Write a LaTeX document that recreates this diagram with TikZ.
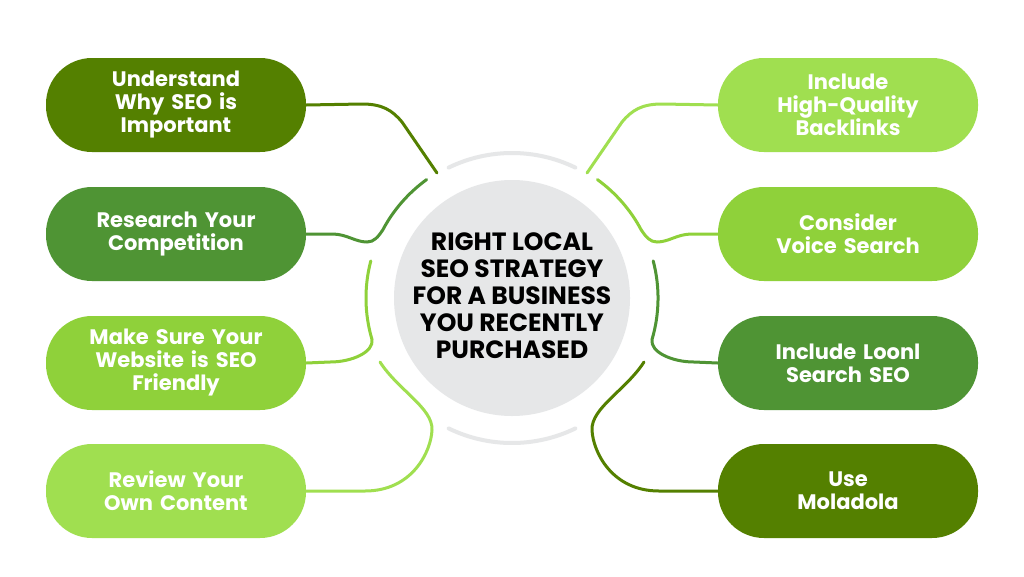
\documentclass[tikz,border=0pt]{standalone}
\usepackage{fontspec}
\setmainfont{Poppins}
\definecolor{gdark}{HTML}{548000}
\definecolor{gmid}{HTML}{4F9434}
\definecolor{glight}{HTML}{8FD13A}
\definecolor{glighter}{HTML}{A0DF50}
\definecolor{ringgray}{HTML}{E6E7E8}
\begin{document}
\begin{tikzpicture}[x=1pt,y=-1pt,
  pill/.style={rectangle, rounded corners=46pt, minimum width=260pt, minimum height=94pt,
    inner sep=0pt, text=white, font=\bfseries\fontsize{21}{23}\selectfont,
    align=center, text width=250pt},
  link/.style={line width=3pt, line cap=round},
  ringarc/.style={line width=4pt, ringgray, line cap=round}]
\useasboundingbox[fill=white] (0,0) rectangle (1024,576);

% centre
\node[circle, fill=ringgray, minimum size=236pt, inner sep=0pt] (hub) at (512,298) {};
\node[font=\bfseries\fontsize{25}{27}\selectfont, align=center, text=black] (hubtext) at (512,296)
  {RIGHT LOCAL\\SEO STRATEGY\\FOR A BUSINESS\\YOU RECENTLY\\PURCHASED};
\draw[ringarc] (hub.center) ++(244.1:145) arc[start angle=244.1, end angle=295.9, radius=145];
\draw[ringarc] (hub.center) ++(64.1:145) arc[start angle=64.1, end angle=115.9, radius=145];

% pills
\node[pill, fill=gdark] (p1) at (176,105) {Understand\\Why SEO is\\Important};
\node[pill, fill=gmid] (p2) at (176,234) {Research Your\\Competition};
\node[pill, fill=glight] (p3) at (176,363) {Make Sure Your\\Website is SEO\\Friendly};
\node[pill, fill=glighter] (p4) at (176,491) {Review Your\\Own Content};
\node[pill, fill=glighter] (q1) at (848,105) {Include\\High-Quality\\Backlinks};
\node[pill, fill=glight] (q2) at (848,234) {Consider\\Voice Search};
\node[pill, fill=gmid] (q3) at (848,363) {Include Loonl\\Search SEO};
\node[pill, fill=gdark] (q4) at (848,491) {Use\\Moladola};

% ring end points
\coordinate (e1) at (437,173);
\coordinate (e2) at (426.6,179.6);
\coordinate (e3) at (370.8,260.9);
\coordinate (e4) at (380,362);
\coordinate (f1) at (587,173);
\coordinate (f2) at (597.4,179.6);
\coordinate (f3) at (653.2,260.9);
\coordinate (f4) at (644,362);

% left connectors
\draw[link, gdark] (p1.east) -- (362,104) .. controls (382,104) and (392,110) .. (402,122) -- (e1);
\draw[link, gmid] (p2.east) -- (332,234) .. controls (347,234) and (355,242) .. (367,242)
  .. controls (374,242) and (378,237) .. (382.8,229.9)
  .. controls (393.3,210.0) and (408.4,192.8) .. (e2);
\draw[link, glight] (e3) .. controls (364.0,286.7) and (364.4,313.9) .. (372.0,339.5)
  .. controls (374,352) and (352,362) .. (330,362) -- (p3.east);
\draw[link, glighter] (e4) .. controls (398,390) and (433,408) .. (432,430)
  .. controls (431,452) and (412,491) .. (365,491) -- (p4.east);

% right connectors
\draw[link, glighter] (q1.west) -- (662,104) .. controls (642,104) and (632,110) .. (622,122) -- (f1);
\draw[link, glight] (q2.west) -- (692,234) .. controls (677,234) and (669,242) .. (657,242)
  .. controls (650,242) and (646,237) .. (641.2,229.9)
  .. controls (630.7,210.0) and (615.6,192.8) .. (f2);
\draw[link, gmid] (f3) .. controls (660.0,286.7) and (659.6,313.9) .. (652.0,339.5)
  .. controls (650,352) and (672,362) .. (694,362) -- (q3.west);
\draw[link, gdark] (f4) .. controls (626,390) and (591,408) .. (592,430)
  .. controls (593,452) and (612,491) .. (659,491) -- (q4.west);
\end{tikzpicture}
\end{document}
